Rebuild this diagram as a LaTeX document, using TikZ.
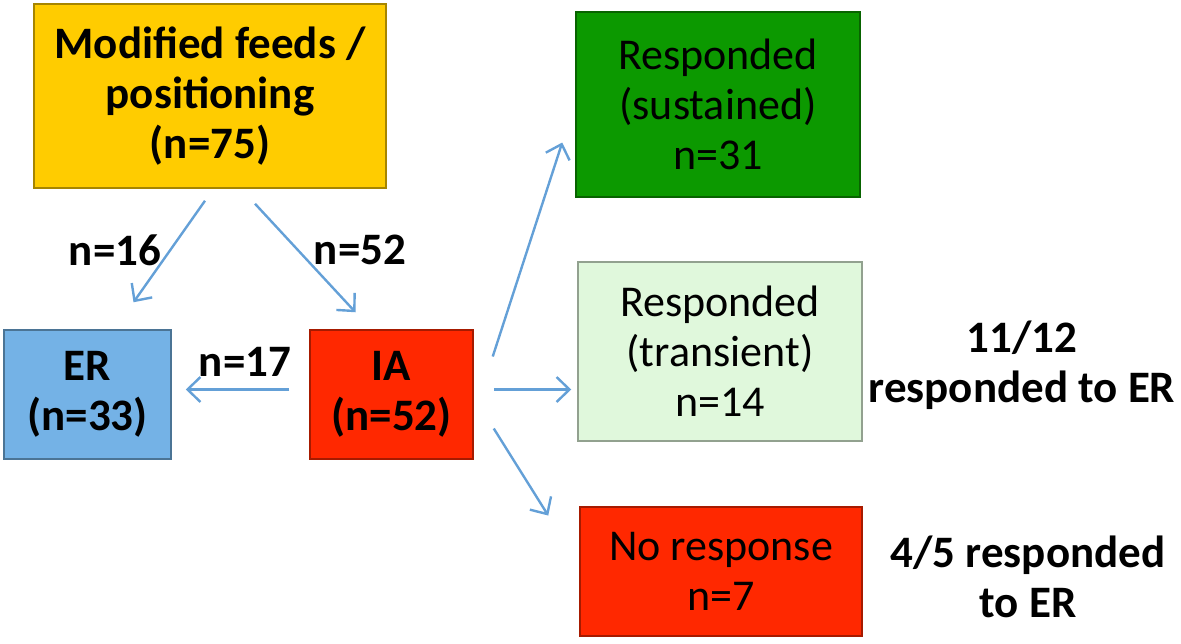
\documentclass[tikz,border=0pt]{standalone}
\usepackage{fontspec}
\setmainfont{Carlito}
\usetikzlibrary{arrows.meta,calc}
\definecolor{ylw}{RGB}{255,204,0}
\definecolor{erblue}{RGB}{116,178,230}
\definecolor{iared}{RGB}{255,40,0}
\definecolor{dgreen}{RGB}{12,153,0}
\definecolor{lgreen}{RGB}{224,248,220}
\definecolor{arr}{RGB}{100,160,215}
\tikzset{
  box/.style={draw=#1!65!black, line width=1.5pt, fill=#1, align=center, inner sep=0pt, text=black},
  link/.style={draw=arr, line width=2.4pt, -{Straight Barb[length=13pt,width=25pt,line width=2.4pt]}},
  bigtxt/.style={font=\fontsize{45}{50}\selectfont\bfseries},
  midtxt/.style={font=\fontsize{44}{50}\selectfont},
  lbl/.style={bigtxt, align=center, inner sep=0pt},
}
\begin{document}
\begin{tikzpicture}[x=1pt,y=-1pt]
\useasboundingbox (0,0) rectangle (1181,643);
\node[box=ylw, minimum width=352pt, minimum height=184pt, bigtxt] (mod) at (210,96) {Modified feeds /\\positioning\\(n=75)};
\node[box=erblue, minimum width=167pt, minimum height=129pt, bigtxt] (er) at (87.5,394.5) {ER\\(n=33)};
\node[box=iared, minimum width=163pt, minimum height=129pt, bigtxt] (ia) at (391.5,394.5) {IA\\(n=52)};
\node[box=dgreen, minimum width=284pt, minimum height=185pt, midtxt] (sus) at (718,104.5) {Responded\\(sustained)\\n=31};
\node[box=lgreen, minimum width=284pt, minimum height=179pt, midtxt] (tra) at (720,351.5) {Responded\\(transient)\\n=14};
\node[box=iared, minimum width=282pt, minimum height=129pt, midtxt] (nor) at (721,571.5) {No response\\n=7};
\node[lbl] (l16) at (115,250) {n=16};
\node[lbl] (l52) at (360,250) {n=52};
\node[lbl] (l17) at (245,362) {n=17};
\node[lbl] (t1) at (1022,365) {11/12\\responded to ER};
\node[lbl] (t2) at (1028,577) {4/5 responded\\to ER};
\draw[link] ($(mod.south)+(-5,12)$) -- ($(er.north)+(46,-27)$);
\draw[link] ($(mod.south)+(45,15)$) -- ($(ia.north)+(-36,-17)$);
\draw[link] ($(ia.west)+(-20,-5)$) -- ($(er.east)+(14,-5)$);
\draw[link] ($(ia.east)+(19,-38)$) -- ($(sus.west)+(-13,38)$);
\draw[link] ($(ia.east)+(20,-5)$) -- ($(tra.west)+(-6,38)$);
\draw[link] ($(ia.east)+(20,34)$) -- ($(nor.west)+(-31,-56)$);
\end{tikzpicture}
\end{document}
